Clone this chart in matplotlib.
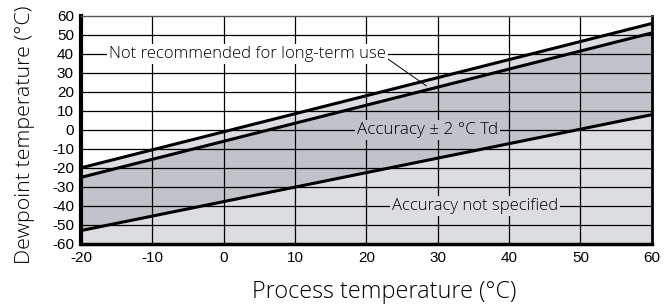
import numpy as np
import matplotlib
matplotlib.use('Agg')
import matplotlib.pyplot as plt

plt.rcParams['axes.unicode_minus'] = False

# process temperature range and the three boundary lines (dewpoint, °C)
x_ends = [-20, 60]
upper_limit = [-20, 56]      # not recommended above
accurate_limit = [-25, 51]   # accuracy ± 2 °C below this
lower_limit = [-53, 8]       # accuracy not specified below this

xticks = [-20, -10, 0, 10, 20, 30, 40, 50, 60]
yticks = [-60, -50, -40, -30, -20, -10, 0, 10, 20, 30, 40, 50, 60]

light = '#dcdde1'
dark = '#c0c3c9'

fig = plt.figure(figsize=(6.63, 3.06), dpi=100)
ax = fig.add_axes([0.122, 0.203, 0.861, 0.745])

x = np.array(x_ends)
ax.fill_between(x, upper_limit, accurate_limit, color=light, lw=0, zorder=1)
ax.fill_between(x, accurate_limit, lower_limit, color=dark, lw=0, zorder=1)
ax.fill_between(x, lower_limit, -60, color=light, lw=0, zorder=1)

for v in yticks[1:-1]:
    ax.axhline(v, color='black', lw=0.9, zorder=2)
for v in xticks[1:-1]:
    ax.axvline(v, color='black', lw=0.9, zorder=2)

for y in (upper_limit, accurate_limit, lower_limit):
    ax.plot(x, y, color='black', lw=2.2, zorder=4, solid_capstyle='butt')

# leader line from label to the narrow band
ax.plot([23.0, 28.4], [37.4, 23.2], color='black', lw=0.7, zorder=4)

lab_font = 'Open Sans'
lab_w = 'light'
ax.text(3.4, 40, 'Not recommended for long-term use', ha='center', va='center',
        fontsize=12, family=lab_font, weight=lab_w, zorder=5,
        bbox=dict(facecolor='white', edgecolor='none', pad=1.5))
ax.text(28.6, 0, 'Accuracy \u00b1 2 \u00b0C Td', ha='center', va='center',
        fontsize=12.3, family=lab_font, weight=lab_w, zorder=5,
        bbox=dict(facecolor=dark, edgecolor='none', pad=1.5))
ax.text(35.2, -40, 'Accuracy not specified', ha='center', va='center',
        fontsize=12, family=lab_font, weight=lab_w, zorder=5,
        bbox=dict(facecolor=light, edgecolor='none', pad=1.5))

ax.set_xlim(-20, 60)
ax.set_ylim(-60, 60)
ax.set_xticks(xticks)
ax.set_yticks(yticks)
ax.tick_params(length=0, labelsize=11)
ax.tick_params(axis='x', pad=5)
ax.tick_params(axis='y', pad=5)
for lbl in ax.get_xticklabels() + ax.get_yticklabels():
    lbl.set_family('Liberation Sans')

ax.spines['left'].set_linewidth(3)
ax.spines['bottom'].set_linewidth(2.5)
ax.spines['right'].set_linewidth(2)
ax.spines['top'].set_linewidth(1)
ax.spines['top'].set_color('#555555')
for s in ax.spines.values():
    s.set_zorder(6)

ax.set_xlabel('Process temperature (\u00b0C)', fontsize=16.8, family=lab_font,
              weight=lab_w)
ax.set_ylabel('Dewpoint temperature (\u00b0C)', fontsize=15.4, family=lab_font,
              weight=lab_w)
ax.xaxis.set_label_coords(0.531, -0.16)
ax.yaxis.set_label_coords(-0.08, 0.478)

fig.savefig('out.png', dpi=100)
